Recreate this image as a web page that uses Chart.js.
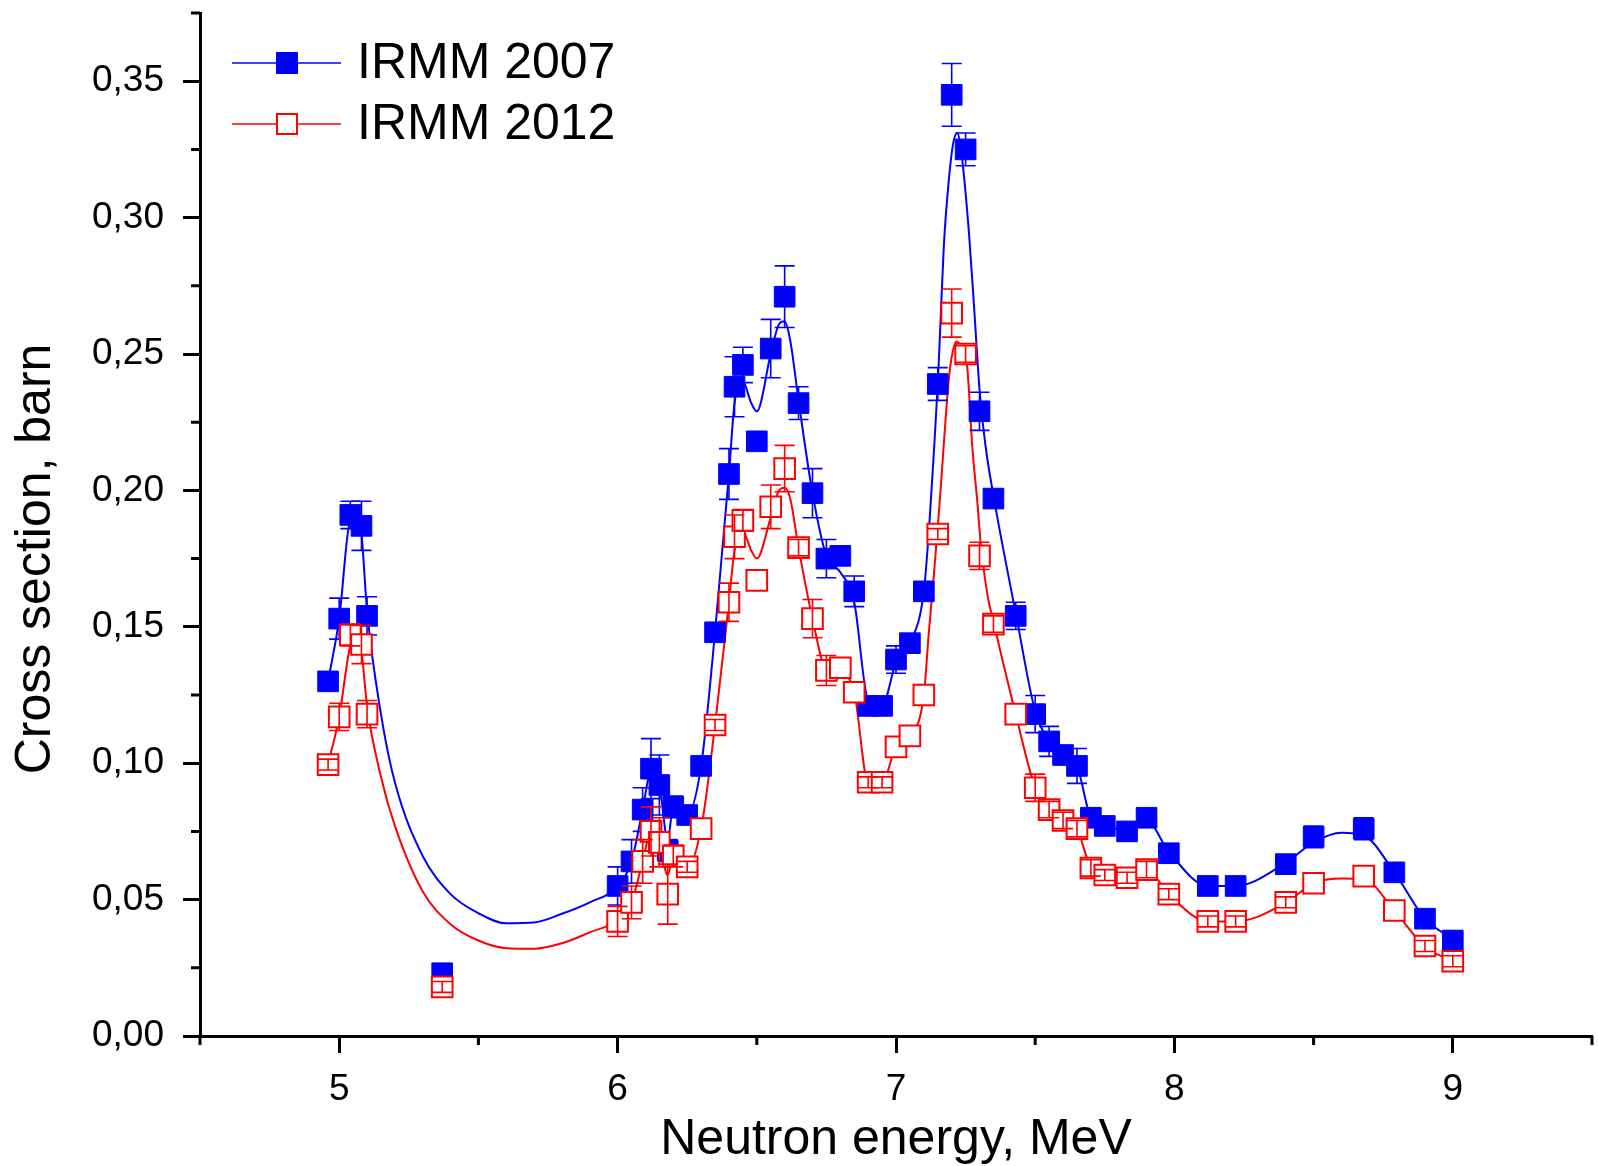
<!DOCTYPE html>
<html>
<head>
<meta charset="utf-8">
<title>Cross section vs neutron energy</title>
<script src="https://cdn.jsdelivr.net/npm/chart.js@4.4.1/dist/chart.umd.min.js"></script>
<style>
  html, body { margin: 0; padding: 0; background: #fff; }
  canvas { display: block; }
</style>
</head>
<body>
<canvas id="chart_1" width="1598" height="1166"></canvas>
<script>
// measured points, MeV
var energy = [4.96, 5.00, 5.04, 5.08, 5.10, 5.37, 6.00, 6.05, 6.09, 6.12, 6.15, 6.18, 6.20, 6.25, 6.30,
  6.35, 6.40, 6.42, 6.45, 6.50, 6.55, 6.60, 6.65, 6.70, 6.75, 6.80, 6.85, 6.90, 6.95, 7.00, 7.05, 7.10,
  7.15, 7.20, 7.25, 7.30, 7.35, 7.43, 7.50, 7.55, 7.60, 7.65, 7.70, 7.75, 7.83, 7.90, 7.98, 8.12, 8.22,
  8.40, 8.50, 8.68, 8.79, 8.90, 9.00];

var irmm2007 = [0.130, 0.153, 0.191, 0.187, 0.154, 0.023, 0.055, 0.064, 0.083, 0.098, 0.092, 0.068, 0.084, 0.081, 0.099,
  0.148, 0.206, 0.238, 0.246, 0.218, 0.252, 0.271, 0.232, 0.199, 0.175, 0.176, 0.163, 0.121, 0.121, 0.138, 0.144, 0.163,
  0.239, 0.345, 0.325, 0.229, 0.197, 0.154, 0.118, 0.108, 0.103, 0.099, 0.080, 0.077, 0.075, 0.080, 0.067, 0.055, 0.055,
  0.063, 0.073, 0.076, 0.060, 0.043, 0.035];
var err2007 = [0.002, 0.0075, 0.005, 0.009, 0.007, 0.002, 0.007, 0.008, 0.008, 0.011, 0.011, 0.004, 0.004, 0.003, 0.003,
  0.002, 0.0093, 0.011, 0.0065, 0.003, 0.0107, 0.0113, 0.006, 0.009, 0.007, 0.003, 0.0056, 0.001, 0.001, 0.005, 0.003, 0.002,
  0.006, 0.0115, 0.006, 0.007, 0.002, 0.005, 0.0068, 0.0055, 0.003, 0.0064, 0.002, 0.002, 0.002, 0.002, 0.002, 0.002, 0.002,
  0.002, 0.004, 0.004, 0.002, 0.002, 0.002];

var irmm2012 = [0.0995, 0.117, 0.147, 0.1435, 0.118, 0.018, 0.042, 0.049, 0.064, 0.075, 0.071, 0.052, 0.066, 0.062, 0.076,
  0.114, 0.159, 0.183, 0.189, 0.167, 0.194, 0.208, 0.179, 0.153, 0.134, 0.135, 0.126, 0.093, 0.093, 0.106, 0.110, 0.125,
  0.184, 0.265, 0.250, 0.176, 0.151, 0.118, 0.091, 0.083, 0.079, 0.076, 0.0616, 0.059, 0.058, 0.061, 0.052, 0.042, 0.042,
  0.049, 0.056, 0.0586, 0.046, 0.033, 0.0274];
var err2012 = [0.002, 0.005, 0.004, 0.007, 0.005, 0.002, 0.0055, 0.006, 0.008, 0.009, 0.009, 0.011, 0.004, 0.002, 0,
  0.002, 0.007, 0.008, 0.004, 0, 0.008, 0.0085, 0.003, 0.007, 0.0055, 0, 0, 0.002, 0.002, 0, 0, 0,
  0.002, 0.0088, 0.003, 0.005, 0.003, 0, 0.005, 0.003, 0.003, 0.003, 0.003, 0.002, 0.002, 0.003, 0.002, 0.002, 0.002,
  0.002, 0, 0, 0, 0.002, 0.002];

// fitted curves
var fitE2007 = [4.96, 5.00, 5.04, 5.065, 5.08, 5.10, 5.15, 5.20, 5.30, 5.40, 5.50, 5.60, 5.70, 5.80, 5.90, 6.00, 6.05, 6.09,
  6.12, 6.15, 6.18, 6.20, 6.25, 6.30, 6.35, 6.40, 6.42, 6.45, 6.48, 6.50, 6.55, 6.58, 6.60, 6.62, 6.65, 6.70, 6.75, 6.80,
  6.85, 6.90, 6.95, 7.00, 7.05, 7.10, 7.12, 7.136, 7.15, 7.16, 7.172, 7.19, 7.205, 7.22, 7.238, 7.262, 7.28, 7.30, 7.322,
  7.352, 7.388, 7.43, 7.50, 7.55, 7.60, 7.65, 7.70, 7.75, 7.83, 7.90, 7.98, 8.12, 8.22, 8.40, 8.50, 8.60, 8.68, 8.79,
  8.90, 9.00];
var fit2007 = [0.130, 0.153, 0.189, 0.190, 0.184, 0.156, 0.118, 0.093, 0.066, 0.052, 0.045, 0.0413, 0.0416, 0.0448, 0.049, 0.055, 0.064, 0.083,
  0.097, 0.092, 0.072, 0.084, 0.081, 0.099, 0.148, 0.206, 0.232, 0.240, 0.232, 0.229, 0.250, 0.261, 0.262, 0.255, 0.233, 0.199, 0.176, 0.170,
  0.159, 0.123, 0.121, 0.137, 0.144, 0.163, 0.188, 0.214, 0.239, 0.262, 0.290, 0.314, 0.327, 0.331, 0.321, 0.2945, 0.268, 0.237, 0.216,
  0.197, 0.177, 0.155, 0.119, 0.108, 0.103, 0.099, 0.080, 0.077, 0.0755, 0.079, 0.0675, 0.055, 0.055, 0.0635, 0.071, 0.0745, 0.0735, 0.060,
  0.043, 0.0355];

var fitE2012 = [4.96, 5.00, 5.04, 5.065, 5.08, 5.10, 5.15, 5.20, 5.30, 5.40, 5.50, 5.60, 5.70, 5.80, 5.90, 6.00, 6.05, 6.09,
  6.12, 6.15, 6.18, 6.20, 6.25, 6.30, 6.35, 6.40, 6.42, 6.45, 6.48, 6.50, 6.55, 6.58, 6.60, 6.62, 6.65, 6.70, 6.75, 6.80,
  6.85, 6.90, 6.95, 7.00, 7.05, 7.10, 7.118, 7.136, 7.155, 7.167, 7.178, 7.19, 7.203, 7.217, 7.235, 7.256, 7.274, 7.292,
  7.304, 7.328, 7.352, 7.43, 7.50, 7.55, 7.60, 7.65, 7.70, 7.75, 7.83, 7.90, 7.98, 8.12, 8.22, 8.40, 8.50, 8.60, 8.68,
  8.79, 8.90, 9.00];
var fit2012 = [0.0996, 0.117, 0.143, 0.146, 0.141, 0.121, 0.095, 0.077, 0.053, 0.041, 0.035, 0.0322, 0.032, 0.034, 0.038, 0.0425, 0.049, 0.064,
  0.075, 0.071, 0.059, 0.066, 0.062, 0.076, 0.114, 0.159, 0.178, 0.185, 0.178, 0.175, 0.190, 0.200, 0.201, 0.197, 0.179, 0.153, 0.134, 0.133,
  0.126, 0.093, 0.093, 0.106, 0.110, 0.125, 0.148, 0.169, 0.193, 0.210, 0.226, 0.241, 0.2505, 0.2546, 0.2525, 0.245, 0.216, 0.196,
  0.181, 0.162, 0.151, 0.118, 0.091, 0.083, 0.079, 0.076, 0.0616, 0.059, 0.058, 0.061, 0.052, 0.042, 0.042, 0.0488, 0.056, 0.0577, 0.0575,
  0.046, 0.0327, 0.0274];

var xTicks = [5, 6, 7, 8, 9];
var xMinorTicks = [4.5, 5.5, 6.5, 7.5, 8.5, 9.5];
var yTicks = [0, 0.05, 0.10, 0.15, 0.20, 0.25, 0.30, 0.35];
var yMinorTicks = [0.025, 0.075, 0.125, 0.175, 0.225, 0.275, 0.325, 0.375];

var BLUE = '#0000ff';
var RED = '#ff0000';
var FONT = "'Liberation Sans', Arial, sans-serif";

function toPoints(xs, ys) {
  var out = [];
  for (var i = 0; i < xs.length; i++) out.push({ x: xs[i], y: ys[i] });
  return out;
}

function commaLabel(v) {
  return v.toFixed(2).replace('.', ',');
}

// draws y error bars right after the owning dataset
var errorBars = {
  id: 'errorBars',
  afterDatasetDraw: function(chart, args) {
    var ds = chart.data.datasets[args.index];
    if (!ds.errors) return;
    var ctx = chart.ctx, xs = chart.scales.x, ys = chart.scales.y;
    ctx.save();
    ctx.strokeStyle = ds.borderColor;
    ctx.lineWidth = 1.6;
    for (var i = 0; i < ds.data.length; i++) {
      if (!(ds.errors[i] > 0)) continue;
      var p = ds.data[i];
      var px = xs.getPixelForValue(p.x);
      var top = ys.getPixelForValue(p.y + ds.errors[i]);
      var bot = ys.getPixelForValue(p.y - ds.errors[i]);
      ctx.beginPath();
      ctx.moveTo(px, top); ctx.lineTo(px, bot);
      ctx.moveTo(px - 10, top); ctx.lineTo(px + 10, top);
      ctx.moveTo(px - 10, bot); ctx.lineTo(px + 10, bot);
      ctx.stroke();
    }
    ctx.restore();
  }
};

// half-length minor ticks, y title and legend in upper left
var extras = {
  id: 'extras',
  afterDraw: function(chart) {
    var ctx = chart.ctx, xs = chart.scales.x, ys = chart.scales.y;
    ctx.save();
    ctx.strokeStyle = '#000';
    ctx.lineWidth = 3;
    ctx.beginPath();
    xMinorTicks.forEach(function(v) {
      var px = xs.getPixelForValue(v);
      ctx.moveTo(px, ys.bottom); ctx.lineTo(px, ys.bottom + 9);
    });
    yMinorTicks.forEach(function(v) {
      var py = ys.getPixelForValue(v);
      ctx.moveTo(xs.left - 9, py); ctx.lineTo(xs.left, py);
    });
    ctx.stroke();

    // y axis title, sits a bit below the middle of the axis in the original
    ctx.save();
    ctx.translate(36, 559);
    ctx.rotate(-Math.PI / 2);
    ctx.fillStyle = '#000';
    ctx.font = '50px ' + FONT;
    ctx.textAlign = 'center';
    ctx.textBaseline = 'middle';
    ctx.fillText('Cross section, barn', 0, 0);
    ctx.restore();

    var items = [
      { label: 'IRMM 2007', stroke: BLUE, fill: BLUE, y: 63 },
      { label: 'IRMM 2012', stroke: RED, fill: '#fff', y: 124 }
    ];
    items.forEach(function(it) {
      ctx.strokeStyle = it.stroke;
      ctx.lineWidth = 1.6;
      ctx.beginPath();
      ctx.moveTo(232, it.y); ctx.lineTo(341, it.y);
      ctx.stroke();
      ctx.fillStyle = it.fill;
      ctx.fillRect(277, it.y - 10, 20, 20);
      ctx.lineWidth = 2;
      ctx.strokeRect(277, it.y - 10, 20, 20);
      ctx.fillStyle = '#000';
      ctx.font = '50px ' + FONT;
      ctx.textBaseline = 'middle';
      ctx.textAlign = 'left';
      ctx.fillText(it.label, 357, it.y + 1);
    });
    ctx.restore();
  }
};

var ctx_1 = document.getElementById('chart_1').getContext('2d');
var chart_1 = new Chart(ctx_1, {
  type: 'scatter',
  data: {
    datasets: [
      {
        label: 'IRMM 2012',
        data: toPoints(energy, irmm2012),
        errors: err2012,
        showLine: false,
        pointStyle: 'rect',
        pointRadius: 14.6,
        pointBackgroundColor: '#fff',
        pointBorderColor: RED,
        pointBorderWidth: 2,
        borderColor: RED
      },
      {
        label: 'IRMM 2007',
        data: toPoints(energy, irmm2007),
        errors: err2007,
        showLine: false,
        pointStyle: 'rect',
        pointRadius: 14.6,
        pointBackgroundColor: BLUE,
        pointBorderColor: BLUE,
        pointBorderWidth: 1,
        borderColor: BLUE
      },
      {
        label: 'fit 2012',
        data: toPoints(fitE2012, fit2012),
        showLine: true,
        pointRadius: 0,
        borderColor: RED,
        borderWidth: 2,
        cubicInterpolationMode: 'monotone'
      },
      {
        label: 'fit 2007',
        data: toPoints(fitE2007, fit2007),
        showLine: true,
        pointRadius: 0,
        borderColor: BLUE,
        borderWidth: 2,
        cubicInterpolationMode: 'monotone'
      }
    ]
  },
  options: {
    responsive: false,
    animation: false,
    layout: { autoPadding: false, padding: { left: 0, right: 6, top: 13, bottom: 0 } },
    plugins: {
      legend: { display: false },
      tooltip: { enabled: false }
    },
    scales: {
      x: {
        type: 'linear',
        min: 4.5,
        max: 9.5,
        afterBuildTicks: function(scale) {
          scale.ticks = xTicks.map(function(v) { return { value: v }; });
        },
        afterFit: function(scale) {
          scale.height = 130;
          scale.paddingLeft = 0;
          scale.paddingRight = 0;
        },
        border: { display: true, color: '#000', width: 3 },
        grid: { drawOnChartArea: false, drawTicks: true, tickLength: 17, tickWidth: 3, tickColor: '#000' },
        ticks: {
          color: '#000',
          padding: 15,
          font: { family: FONT, size: 37 },
          callback: function(v) { return String(v); }
        },
        title: {
          display: true,
          text: 'Neutron energy, MeV',
          color: '#000',
          font: { family: FONT, size: 50, lineHeight: 1.2 },
          padding: { top: 0, bottom: -4 }
        }
      },
      y: {
        type: 'linear',
        min: 0,
        max: 0.375,
        afterBuildTicks: function(scale) {
          scale.ticks = yTicks.map(function(v) { return { value: v }; });
        },
        afterFit: function(scale) {
          scale.width = 200;
          scale.paddingTop = 0;
          scale.paddingBottom = 0;
        },
        border: { display: true, color: '#000', width: 3 },
        grid: { drawOnChartArea: false, drawTicks: true, tickLength: 17, tickWidth: 3, tickColor: '#000' },
        ticks: {
          color: '#000',
          padding: 19,
          font: { family: FONT, size: 37 },
          callback: function(v) { return commaLabel(v); }
        }
      }
    }
  },
  plugins: [errorBars, extras]
});
</script>
</body>
</html>
